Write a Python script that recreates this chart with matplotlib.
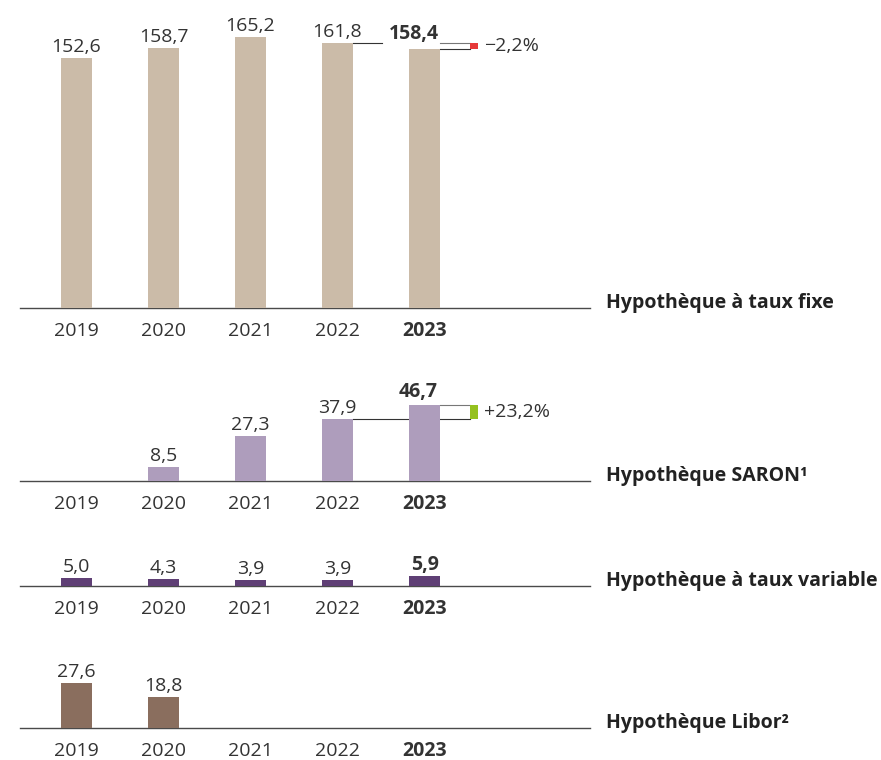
import numpy as np
import matplotlib.pyplot as plt

plt.rcParams['font.family'] = ['Open Sans', 'DejaVu Sans']

years = ['2019', '2020', '2021', '2022', '2023']
fixe = [152.6, 158.7, 165.2, 161.8, 158.4]
saron = [np.nan, 8.5, 27.3, 37.9, 46.7]
variable = [5.0, 4.3, 3.9, 3.9, 5.9]
libor = [27.6, 18.8, np.nan, np.nan, np.nan]
names = ['Hypothèque à taux fixe', 'Hypothèque SARON¹',
         'Hypothèque à taux variable', 'Hypothèque Libor²']
changes = ['\u22122,2%', '+23,2%', None, None]

colors = ['#cbbba8', '#ae9dbc', '#5f3f75', '#8a6e5e']
change_colors = ['#e63939', '#95c11f']
txt = '#333333'
FS = 14

W, H = 881, 760
PX = 1.638          # pixels per unit
X0, DX = 76.5, 87   # bar centre of 2019 and spacing, px
BW = 31 / DX
PT = 0.72           # points per pixel at dpi 100


def px2x(p):
    return (p - X0) / DX


fig = plt.figure(figsize=(W / 100, H / 100), dpi=100)

# baseline and top of each panel, px
layout = [(308, 20), (481, 380), (586, 560), (728, 660)]
series = [fixe, saron, variable, libor]

for i, (vals, (base, top)) in enumerate(zip(series, layout)):
    ax = fig.add_axes([20 / W, 1 - base / H, 570 / W, (base - top) / H])
    ax.set_xlim(px2x(20), px2x(590))
    ax.set_ylim(0, (base - top) / PX)
    x = np.arange(len(years))
    ax.bar(x, vals, width=BW, color=colors[i], zorder=3)

    for s in ['top', 'right', 'left']:
        ax.spines[s].set_visible(False)
    ax.spines['bottom'].set_color('#4a4a4a')
    ax.spines['bottom'].set_linewidth(1.0)
    ax.set_yticks([])
    ax.set_xticks([])
    ax.patch.set_alpha(0)

    for j, yr in enumerate(years):
        ax.annotate(yr, (j, 0), xytext=(0, -28 * PT), textcoords='offset points',
                    ha='center', va='baseline', fontsize=FS, color=txt,
                    fontweight='bold' if j == len(years) - 1 else 'normal',
                    annotation_clip=False)

    for j, v in enumerate(vals):
        if np.isnan(v):
            continue
        lab = f'{v:.1f}'.replace('.', ',')
        bold = j == len(vals) - 1
        dx, dy = 0, 6
        if bold and changes[i] is not None:
            dx, dy = (-11, 10) if i == 0 else (-6, 8)
        ax.annotate(lab, (j, v), xytext=(dx * PT, dy * PT),
                    textcoords='offset points', ha='center', va='baseline',
                    fontsize=FS, color=txt,
                    fontweight='bold' if bold else 'normal', annotation_clip=False)

    ax.text(px2x(606), 0, names[i], ha='left', va='baseline', fontsize=FS,
            fontweight='bold', color='#222222', clip_on=False)

    if changes[i] is not None:
        prev, cur = vals[3], vals[4]
        r_prev, r_cur = 3 + BW / 2, 4 + BW / 2
        m0, m1 = px2x(470), px2x(478)
        if i == 0:
            ax.plot([r_prev, px2x(382)], [prev, prev], color='#333333', lw=0.8, zorder=2)
            ax.plot([r_cur, m0], [prev, prev], color='#777777', lw=0.8, zorder=2)
        else:
            ax.plot([r_prev, m0], [prev, prev], color='#333333', lw=0.8, zorder=2)
        ax.plot([r_cur, m0], [cur, cur], color='#333333' if i == 0 else '#777777',
                lw=0.8, zorder=2)
        ax.bar((m0 + m1) / 2, cur - prev, bottom=prev, width=m1 - m0,
               color=change_colors[i], zorder=3)
        ax.text(px2x(484), (prev + cur) / 2, changes[i], ha='left', va='center',
                fontsize=FS, color=txt, clip_on=False)

fig.savefig('out.png', dpi=100)
